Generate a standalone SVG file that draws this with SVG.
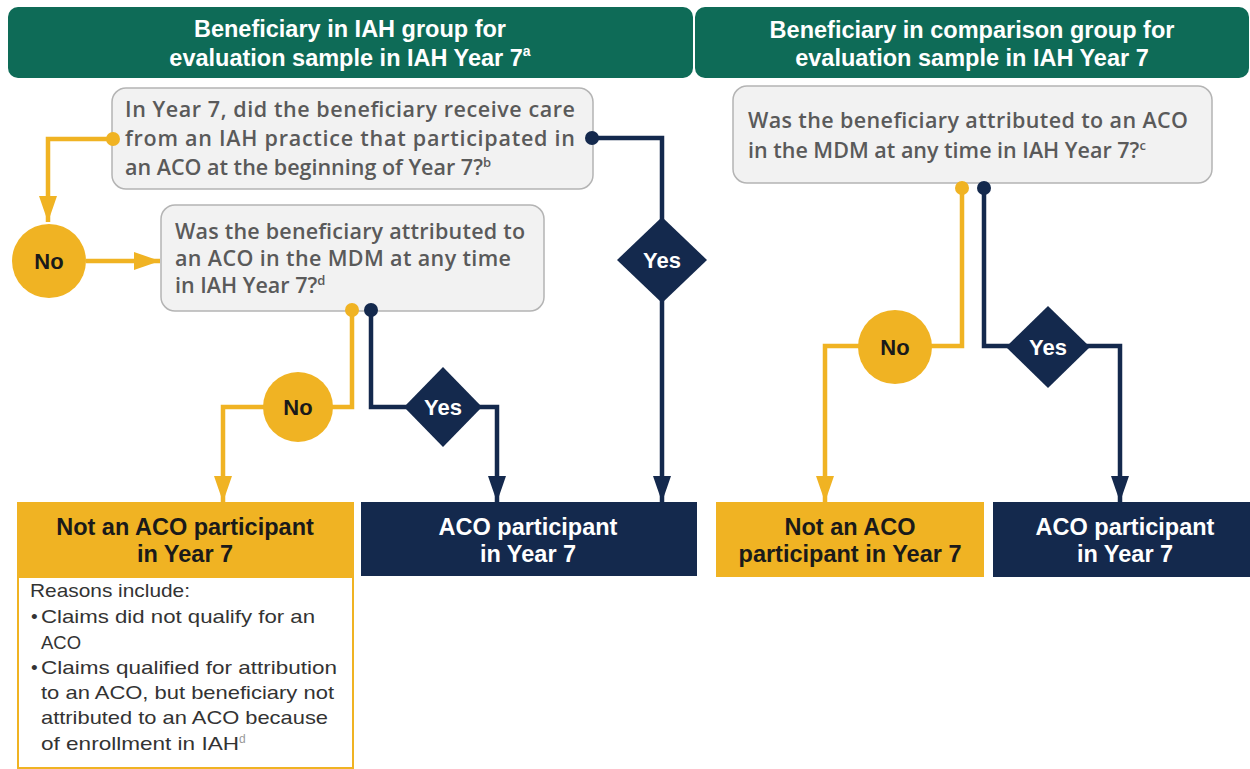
<svg xmlns="http://www.w3.org/2000/svg" width="1250" height="769" viewBox="0 0 1250 769">
<defs>
<style>
.hdr{fill:#0e6b57}
.hdrt{font-family:"Liberation Sans",Arial,sans-serif;font-weight:bold;font-size:23.5px;fill:#ffffff;text-anchor:middle}
.q{fill:#f2f2f2;stroke:#b4b4b4;stroke-width:1.5}
.qt{font-family:"Open Sans","Liberation Sans",sans-serif;font-weight:600;font-size:21.5px;fill:#5a5a5a}
.yel{fill:#f0b323}
.nav{fill:#14294d}
.bt{font-family:"Liberation Sans",Arial,sans-serif;font-weight:bold;font-size:23.5px;text-anchor:middle}
.dk{fill:#1a1a1a}
.wt{fill:#ffffff}
.lab{font-family:"Liberation Sans",Arial,sans-serif;font-weight:bold;font-size:22px;text-anchor:middle}
.cy{fill:none;stroke:#f0b323;stroke-width:4.5}
.cn{fill:none;stroke:#14294d;stroke-width:4.5}
.dy{fill:#f0b323}
.dn{fill:#14294d}
.rt{font-family:"Liberation Sans",Arial,sans-serif;font-size:19px;fill:#333333}
</style>
<marker id="ay" markerUnits="userSpaceOnUse" markerWidth="26" markerHeight="18" viewBox="0 0 26 18" refX="26" refY="9" orient="auto"><path d="M0,0 L26,9 L0,18 Z" fill="#f0b323"/></marker>
<marker id="an" markerUnits="userSpaceOnUse" markerWidth="26" markerHeight="18" viewBox="0 0 26 18" refX="26" refY="9" orient="auto"><path d="M0,0 L26,9 L0,18 Z" fill="#14294d"/></marker>
</defs>
<rect width="1250" height="769" fill="#ffffff"/>

<g id="header-iah">
<rect class="hdr" x="8" y="7" width="685" height="71" rx="10"/>
<text class="hdrt" x="350" y="37">Beneficiary in IAH group for</text>
<text class="hdrt" x="350" y="66">evaluation sample in IAH Year 7<tspan font-size="14" dy="-10">a</tspan></text>
</g>
<g id="header-comparison">
<rect class="hdr" x="695" y="7" width="554" height="71" rx="10"/>
<text class="hdrt" x="972" y="38">Beneficiary in comparison group for</text>
<text class="hdrt" x="972" y="66">evaluation sample in IAH Year 7</text>
</g>

<g id="connectors">
<path class="cy" d="M113,139 H48 V222" marker-end="url(#ay)"/>
<path class="cy" d="M86,261 H160" marker-end="url(#ay)"/>
<path class="cy" d="M352,310 V407 H223 V502" marker-end="url(#ay)"/>
<path class="cn" d="M371,310 V407 H497 V502" marker-end="url(#an)"/>
<path class="cn" d="M592,138 H662 V502" marker-end="url(#an)"/>
<path class="cy" d="M962,188 V346 H825 V502" marker-end="url(#ay)"/>
<path class="cn" d="M984,188 V346 H1120 V502" marker-end="url(#an)"/>
</g>

<g id="q1">
<rect class="q" x="112" y="88" width="481" height="101" rx="14"/>
<text class="qt" x="125" y="117" textLength="450" lengthAdjust="spacing">In Year 7, did the beneficiary receive care</text>
<text class="qt" x="125" y="146" textLength="450" lengthAdjust="spacing">from an IAH practice that participated in</text>
<text class="qt" x="125" y="175">an ACO at the beginning of Year 7?<tspan font-size="13" dy="-8">b</tspan></text>
</g>
<g id="no1">
<circle cx="49" cy="261" r="37" fill="#f0b323"/>
<text class="lab dk" x="49" y="269">No</text>
</g>
<g id="q2">
<rect class="q" x="161" y="205" width="383" height="106" rx="14"/>
<text class="qt" x="175" y="239" textLength="350" lengthAdjust="spacing">Was the beneficiary attributed to</text>
<text class="qt" x="175" y="266" textLength="336" lengthAdjust="spacing">an ACO in the MDM at any time</text>
<text class="qt" x="175" y="293">in IAH Year 7?<tspan font-size="13" dy="-8">d</tspan></text>
</g>
<g id="no2">
<circle cx="298" cy="407" r="35" fill="#f0b323"/>
<text class="lab dk" x="298" y="415">No</text>
</g>
<g id="yes2">
<path d="M443,367 L482,407 L443,447 L404,407 Z" class="nav"/>
<text class="lab wt" x="443" y="415">Yes</text>
</g>
<g id="yes1">
<path d="M662,217 L707,260 L662,303 L617,260 Z" class="nav"/>
<text class="lab wt" x="662" y="268">Yes</text>
</g>
<g id="q3">
<rect class="q" x="733" y="86" width="479" height="97" rx="14"/>
<text class="qt" x="748" y="128" textLength="440" lengthAdjust="spacing">Was the beneficiary attributed to an ACO</text>
<text class="qt" x="748" y="158">in the MDM at any time in IAH Year 7?<tspan font-size="13" dy="-8">c</tspan></text>
</g>
<g id="no3">
<circle cx="895" cy="347" r="37" fill="#f0b323"/>
<text class="lab dk" x="895" y="355">No</text>
</g>
<g id="yes3">
<path d="M1048,306 L1090,347 L1048,388 L1006,347 Z" class="nav"/>
<text class="lab wt" x="1048" y="355">Yes</text>
</g>

<g id="connector-ends">
<circle class="dy" cx="113" cy="139" r="7"/>
<circle class="dy" cx="352" cy="310" r="7"/>
<circle class="dn" cx="371" cy="310" r="7"/>
<circle class="dn" cx="592" cy="138" r="7"/>
<circle class="dy" cx="962" cy="188" r="7"/>
<circle class="dn" cx="984" cy="188" r="7"/>
</g>

<g id="not-aco-iah">
<rect x="18" y="577" width="335" height="191" fill="#ffffff" stroke="#f0b323" stroke-width="2"/>
<rect class="yel" x="17" y="502" width="337" height="76"/>
<text class="bt dk" x="185" y="535">Not an ACO participant</text>
<text class="bt dk" x="185" y="562">in Year 7</text>
<text class="rt" x="30" y="597" textLength="160" lengthAdjust="spacingAndGlyphs">Reasons include:</text>
<text class="rt" x="31" y="623">•</text>
<text class="rt" x="41" y="623" textLength="274" lengthAdjust="spacingAndGlyphs">Claims did not qualify for an</text>
<text class="rt" x="41" y="649" textLength="40" lengthAdjust="spacingAndGlyphs">ACO</text>
<text class="rt" x="31" y="674">•</text>
<text class="rt" x="41" y="674" textLength="296" lengthAdjust="spacingAndGlyphs">Claims qualified for attribution</text>
<text class="rt" x="41" y="699" textLength="293" lengthAdjust="spacingAndGlyphs">to an ACO, but beneficiary not</text>
<text class="rt" x="41" y="724" textLength="287" lengthAdjust="spacingAndGlyphs">attributed to an ACO because</text>
<text class="rt" x="41" y="750"><tspan textLength="198" lengthAdjust="spacingAndGlyphs">of enrollment in IAH</tspan><tspan font-size="12" dy="-7" fill="#999999">d</tspan></text>
</g>
<g id="aco-iah">
<rect class="nav" x="361" y="502" width="336" height="74"/>
<text class="bt wt" x="528" y="535">ACO participant</text>
<text class="bt wt" x="528" y="562">in Year 7</text>
</g>
<g id="not-aco-comp">
<rect class="yel" x="716" y="502" width="268" height="75"/>
<text class="bt dk" x="850" y="535">Not an ACO</text>
<text class="bt dk" x="850" y="562">participant in Year 7</text>
</g>
<g id="aco-comp">
<rect class="nav" x="993" y="502" width="257" height="75"/>
<text class="bt wt" x="1125" y="535">ACO participant</text>
<text class="bt wt" x="1125" y="562">in Year 7</text>
</g>
</svg>
